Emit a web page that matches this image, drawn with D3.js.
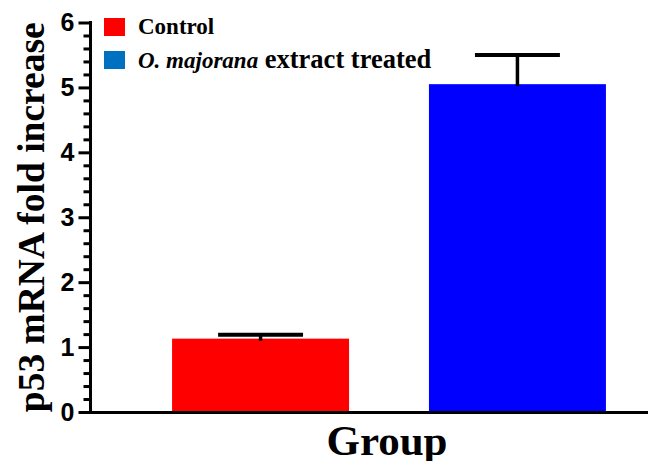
<!DOCTYPE html>
<html>
<head>
<meta charset="utf-8">
<script src="https://cdn.jsdelivr.net/npm/d3@7"></script>
<style>
  html, body { margin: 0; padding: 0; background: #fff; }
  svg { display: block; }
</style>
</head>
<body>
<svg id="chart" width="648" height="461"></svg>
<script>
// Groups, means and upper error (SD) for p53 mRNA expression
const groups = ["Control", "O. majorana extract treated"];
const means = [1.13, 5.05];
const errors = [0.06, 0.45];
const barColors = ["#ff0000", "#0000ff"];
const legendColors = ["#ff0000", "#0070c0"];
const yTicks = [0, 1, 2, 3, 4, 5, 6];

const svg = d3.select("#chart");

const x = d3.scaleBand()
  .domain(groups)
  .range([132, 646])
  .paddingInner(0.311)
  .paddingOuter(0.156);

const y = d3.scaleLinear()
  .domain([0, 6])
  .range([412, 22.5]);

const axisX0 = 90.5;

// bars
svg.append("g").selectAll("rect")
  .data(groups)
  .join("rect")
  .attr("x", d => x(d))
  .attr("y", (d, i) => y(means[i]))
  .attr("width", x.bandwidth())
  .attr("height", (d, i) => y(0) - y(means[i]))
  .attr("fill", (d, i) => barColors[i]);

// error bars (upper only)
const eb = svg.append("g").attr("stroke", "#000");
groups.forEach((g, i) => {
  const cx = x(g) + x.bandwidth() / 2;
  const capHalf = x.bandwidth() * 0.24;
  eb.append("line")
    .attr("x1", cx).attr("x2", cx)
    .attr("y1", y(means[i]) + 2).attr("y2", y(means[i] + errors[i]))
    .attr("stroke-width", 3.5);
  eb.append("line")
    .attr("x1", cx - capHalf).attr("x2", cx + capHalf)
    .attr("y1", y(means[i] + errors[i])).attr("y2", y(means[i] + errors[i]))
    .attr("stroke-width", 4);
});

// y axis with minor ticks
const minor = d3.range(0, 6.001, 0.2).filter(v => Math.abs(v - Math.round(v)) > 1e-6);
const yAxisG = svg.append("g").attr("transform", `translate(${axisX0},0)`);
yAxisG.call(d3.axisLeft(y).tickValues(minor).tickSize(7).tickFormat(""))
  .call(g => g.select(".domain").remove())
  .call(g => g.selectAll("line").attr("stroke", "#000").attr("stroke-width", 3));
const yMajor = svg.append("g").attr("transform", `translate(${axisX0},0)`);
yMajor.call(d3.axisLeft(y).tickValues(yTicks).tickSize(12).tickPadding(4).tickFormat(d3.format("d")))
  .call(g => g.select(".domain").remove())
  .call(g => g.selectAll("line").attr("stroke", "#000").attr("stroke-width", 3))
  .call(g => g.selectAll("text")
    .attr("font-family", "'Liberation Sans', Arial, sans-serif")
    .attr("font-weight", "bold")
    .attr("font-size", 25)
    .attr("fill", "#000"));
svg.append("line")
  .attr("x1", axisX0).attr("x2", axisX0)
  .attr("y1", y(6) - 1.5).attr("y2", y(0) + 1.5)
  .attr("stroke", "#000").attr("stroke-width", 3);

// x axis baseline
svg.append("line")
  .attr("x1", axisX0 - 1.5).attr("x2", 648)
  .attr("y1", y(0) + 0.5).attr("y2", y(0) + 0.5)
  .attr("stroke", "#000").attr("stroke-width", 3);

// axis titles
svg.append("text")
  .attr("transform", `translate(44, ${(y(0) + y(6)) / 2}) rotate(-90)`)
  .attr("text-anchor", "middle")
  .attr("font-family", "'Liberation Serif', 'Times New Roman', serif")
  .attr("font-weight", "bold")
  .attr("font-size", 37.5)
  .text("p53 mRNA fold increase");

svg.append("text")
  .attr("x", 387)
  .attr("y", 455)
  .attr("text-anchor", "middle")
  .attr("font-family", "'Liberation Serif', 'Times New Roman', serif")
  .attr("font-weight", "bold")
  .attr("font-size", 43)
  .text("Group");

// legend
const legend = svg.append("g")
  .attr("font-family", "'Liberation Serif', 'Times New Roman', serif")
  .attr("font-weight", "bold")
  .attr("font-size", 23);
const rowY = [18, 51];
legend.selectAll("rect")
  .data(groups)
  .join("rect")
  .attr("x", 104)
  .attr("y", (d, i) => rowY[i])
  .attr("width", 21)
  .attr("height", 18)
  .attr("fill", (d, i) => legendColors[i]);
legend.append("text")
  .attr("x", 138).attr("y", rowY[0] + 16)
  .text(groups[0]);
const t2 = legend.append("text")
  .attr("x", 138).attr("y", rowY[1] + 17);
t2.append("tspan").attr("font-style", "italic").text("O. majorana");
t2.append("tspan").attr("font-size", 26.5).text(" extract treated");
</script>
</body>
</html>
